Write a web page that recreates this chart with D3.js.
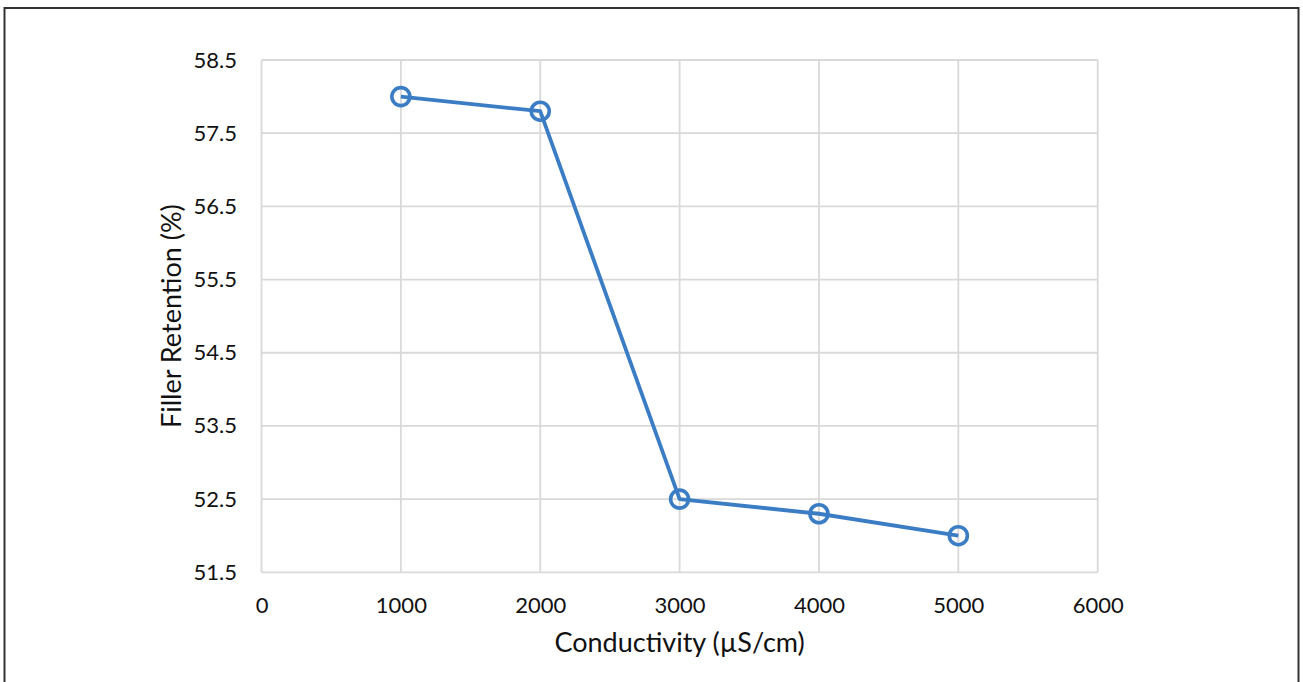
<!DOCTYPE html>
<html><head><meta charset="utf-8">
<script src="https://cdn.jsdelivr.net/npm/d3@7"></script>
<style>body{margin:0;background:#fff}svg{display:block}</style>
</head><body>
<svg id="c" width="1303" height="682"></svg>
<script>
const conductivity = [1000, 2000, 3000, 4000, 5000];
const retention = [58.0, 57.8, 52.5, 52.3, 52.0];
const xTicks = [0, 1000, 2000, 3000, 4000, 5000, 6000];
const yTicks = [51.5, 52.5, 53.5, 54.5, 55.5, 56.5, 57.5, 58.5];
const xTitle = "Conductivity (µS/cm)";
const yTitle = "Filler Retention (%)";

const svg = d3.select("#c");
const font = "Lato, Open Sans, sans-serif";
svg.append("rect").attr("x",4.5).attr("y",8).attr("width",1294).attr("height",690)
  .attr("fill","#fff").attr("stroke","#333").attr("stroke-width",2);

const L=261.5, R=1097.7, T=60, B=572.3;
const x = d3.scaleLinear().domain([0,6000]).range([L,R]);
const y = d3.scaleLinear().domain([51.5,58.5]).range([B,T]);

const grid = svg.append("g");
grid.selectAll("line.v").data(xTicks).join("line")
  .attr("x1",d=>x(d)).attr("x2",d=>x(d)).attr("y1",T).attr("y2",B)
  .attr("stroke","#d9d9d9").attr("stroke-width",1.8);
grid.selectAll("line.h").data(yTicks).join("line")
  .attr("x1",L).attr("x2",R).attr("y1",d=>y(d)).attr("y2",d=>y(d))
  .attr("stroke","#d9d9d9").attr("stroke-width",1.8);

const xAxis = svg.append("g").attr("transform",`translate(0,${B})`)
  .call(d3.axisBottom(x).tickValues(xTicks).tickFormat(d3.format("d")).tickSize(0).tickPadding(25));
xAxis.select(".domain").remove();
xAxis.selectAll("text").attr("font-size",22).attr("font-family",font).attr("fill","#111");

const yAxis = svg.append("g").attr("transform",`translate(${L},0)`)
  .call(d3.axisLeft(y).tickValues(yTicks).tickFormat(d3.format(".1f")).tickSize(0).tickPadding(24.5));
yAxis.select(".domain").remove();
yAxis.selectAll("text").attr("font-size",22).attr("font-family",font).attr("fill","#111");

const data = conductivity.map((c,i)=>({c, r: retention[i]}));
const blue = "#3b7dc4";
svg.append("path").datum(data)
  .attr("d", d3.line().x(d=>x(d.c)).y(d=>y(d.r)))
  .attr("fill","none").attr("stroke",blue).attr("stroke-width",3.8).attr("stroke-linejoin","round");
svg.selectAll("circle.pt").data(data).join("circle")
  .attr("cx",d=>x(d.c)).attr("cy",d=>y(d.r)).attr("r",9)
  .attr("fill","none").attr("stroke",blue).attr("stroke-width",3.6);

svg.append("text").attr("x",(L+R)/2).attr("y",652).attr("text-anchor","middle")
  .attr("font-size",27).attr("font-family",font).attr("fill","#111").text(xTitle);
svg.append("text").attr("transform",`translate(181,${(T+B)/2}) rotate(-90)`).attr("text-anchor","middle")
  .attr("font-size",27).attr("font-family",font).attr("fill","#111").text(yTitle);
</script>
</body></html>
